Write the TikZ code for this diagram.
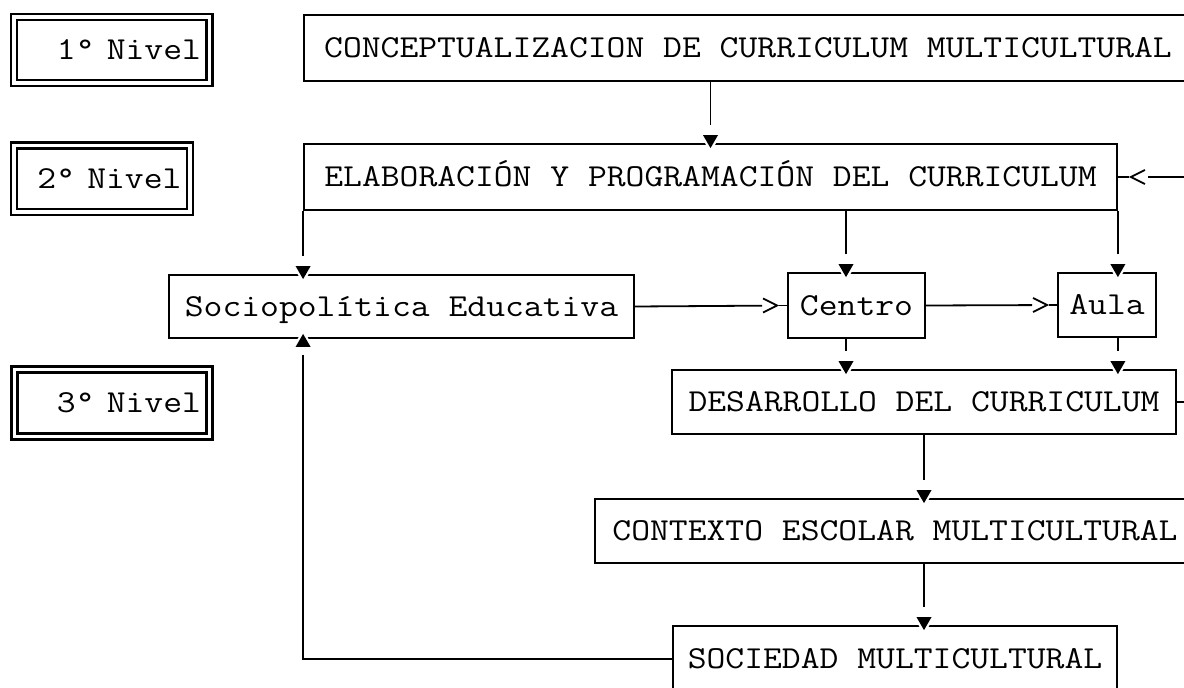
\documentclass[tikz,border=0pt]{standalone}
\usepackage{graphicx}
\usetikzlibrary{arrows.meta}
\newcommand\tw{\fontsize{32pt}{36pt}\selectfont\ttfamily}
\newcommand\hsx[1]{\scalebox{1.143}[1]{#1}}
\begin{document}
\begin{tikzpicture}[x=1pt,y=-1pt,
  box/.style={draw, line width=1.8pt, inner sep=0pt, font=\tw, text height=19.5pt, text depth=0pt},
  nivel/.style={draw, line width=2.2pt, double=white, double distance=3.8pt, inner xsep=8.5pt, inner ysep=0pt, align=right, font=\tw, text height=19.5pt, text depth=0pt},
  conn/.style={line width=1.8pt},
  tconn/.style={conn, shorten >=18pt},
  tipdown/.pic={
    \filldraw[white, line width=4.5pt, line join=round] (-7.5,-8) -- (7.5,-8) -- (0,5) -- cycle;
    \fill[black] (-7.5,-8) -- (7.5,-8) -- (0,5) -- cycle;},
  chev/.pic={\draw[line width=1.8pt, line join=miter] (-14,-7) -- (0,0) -- (-14,7);},
]
\fill[white] (0,0) rectangle (1184,688);
\useasboundingbox (0,0) rectangle (1184,688);
\clip (0,0) rectangle (1184,688);

% level labels
\node[nivel, text width=178.5pt, minimum height=66pt] (n1) at (111.75,50) {\hsx{1° Nivel}};
\node[nivel, text width=159pt, minimum height=66.5pt] (n2) at (102,178.75) {\hsx{2° Nivel}};
\node[nivel, text width=178pt, minimum height=67pt] (n3) at (112,403) {\hsx{3° Nivel}};

% boxes
\node[box, minimum width=888pt, minimum height=66pt] (concept) at (748,48) {\hsx{CONCEPTUALIZACION DE CURRICULUM MULTICULTURAL}};
\node[box, minimum width=813pt, minimum height=66pt] (elab) at (710.5,177) {\hsx{ELABORACIÓN Y PROGRAMACIÓN DEL CURRICULUM}};
\node[box, minimum width=465pt, minimum height=63pt] (socio) at (401.5,306.5) {\hsx{Sociopolítica Educativa}};
\node[box, minimum width=137pt, minimum height=65pt] (centro) at (856.5,305.5) {\hsx{Centro}};
\node[box, minimum width=98pt, minimum height=64pt] (aula) at (1107,305) {\hsx{Aula}};
\node[box, minimum width=504pt, minimum height=64pt] (des) at (924,402) {\hsx{DESARROLLO DEL CURRICULUM}};
\node[box, minimum width=600pt, minimum height=64pt] (cont) at (895,531) {\hsx{CONTEXTO ESCOLAR MULTICULTURAL}};
\node[box, minimum width=444pt, minimum height=66pt] (soc) at (895,659) {\hsx{SOCIEDAD MULTICULTURAL}};

% named connector end points
\coordinate (cx) at ([xshift=-10.5pt]centro.north);
\coordinate (cxs) at ([xshift=-10.5pt]centro.south);
\coordinate (fb) at (1205,0);

% vertical connectors
\draw[tconn] (elab.north |- concept.south) -- (elab.north);
\pic at (elab.north) {tipdown};
\draw[tconn] (elab.south west) -- (elab.south west |- socio.north);
\pic at (elab.south west |- socio.north) {tipdown};
\draw[tconn] (cx |- elab.south) -- (cx);
\pic at (cx) {tipdown};
\draw[tconn] (elab.south east) -- (elab.south east |- aula.north);
\pic at (elab.south east |- aula.north) {tipdown};

\draw[tconn] (cxs) -- (cxs |- des.north);
\pic at (cxs |- des.north) {tipdown};
\draw[tconn] (elab.south east |- aula.south) -- (elab.south east |- des.north);
\pic at (elab.south east |- des.north) {tipdown};
\draw[tconn] (des.south) -- (des.south |- cont.north);
\pic at (des.south |- cont.north) {tipdown};
\draw[tconn] (des.south |- cont.south) -- (des.south |- soc.north);
\pic at (des.south |- soc.north) {tipdown};

\draw[conn, shorten >=16pt] (soc.west) -| (elab.south west |- socio.south);
\pic[rotate=180] at (elab.south west |- socio.south) {tipdown};

% horizontal connectors
\draw[conn, shorten >=25pt] (socio.east) -- (centro.west);
\pic at ([xshift=-10pt]centro.west) {chev};
\draw[conn] ([xshift=-8pt]centro.west) -- (centro.west);
\draw[conn, shorten >=25pt] (centro.east) -- (aula.west);
\pic at ([xshift=-10pt]aula.west) {chev};
\draw[conn] ([xshift=-8pt]aula.west) -- (aula.west);

% feedback loop
\draw[conn, shorten >=30pt] (des.east) -- (fb |- des.east) -- (fb |- elab.east) -- (elab.east);
\pic[rotate=180] at ([xshift=13pt]elab.east) {chev};
\draw[conn] (elab.east) -- ++(11,0);
\end{tikzpicture}
\end{document}
